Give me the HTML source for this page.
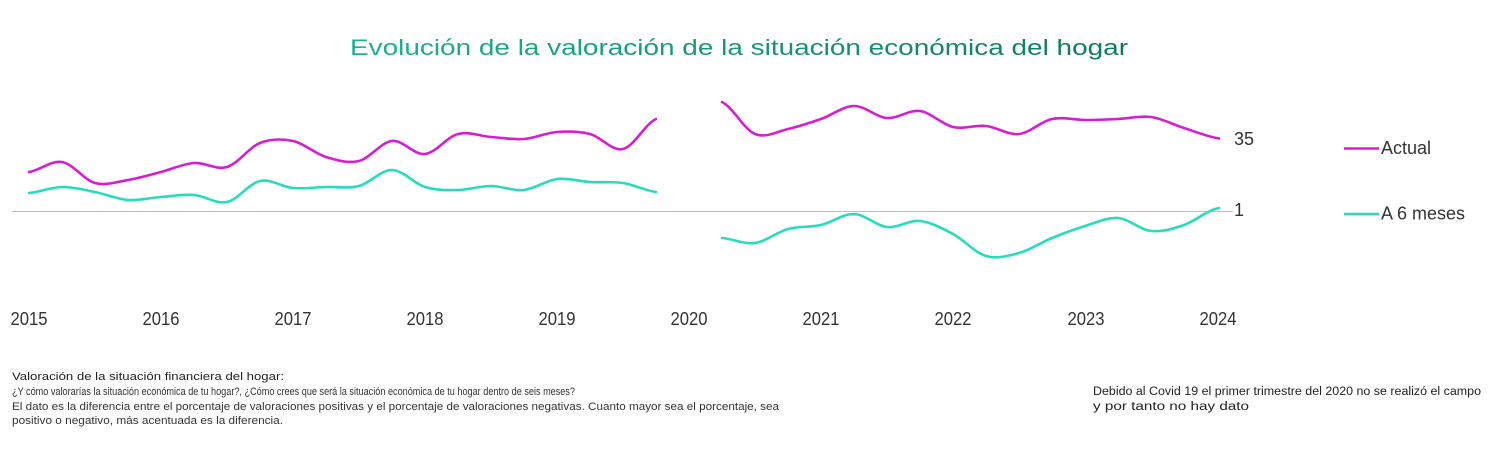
<!DOCTYPE html>
<html>
<head>
<meta charset="utf-8">
<style>
  html, body { margin: 0; padding: 0; background: #ffffff; }
  body { width: 1500px; height: 467px; overflow: hidden; }
  svg { display: block; }
  text { font-family: "Liberation Sans", "DejaVu Sans", sans-serif; }
</style>
</head>
<body>
<svg width="1500" height="467" viewBox="0 0 1500 467" xmlns="http://www.w3.org/2000/svg">
  <defs>
    <linearGradient id="tg" gradientUnits="userSpaceOnUse" x1="350" y1="0" x2="1128" y2="0">
      <stop offset="0" stop-color="#1db391"/>
      <stop offset="1" stop-color="#0f7a5f"/>
    </linearGradient>
  </defs>
  <rect x="0" y="0" width="1500" height="467" fill="#ffffff"/>

  <!-- Title -->
  <text x="350" y="55" font-size="22" fill="url(#tg)" textLength="778" lengthAdjust="spacingAndGlyphs">Evolución de la valoración de la situación económica del hogar</text>

  <!-- zero baseline -->
  <line x1="12" y1="211.5" x2="1233" y2="211.5" stroke="#bdbdbd" stroke-width="1"/>

  <!-- Actual (magenta) left segment -->
  <path fill="none" stroke="#d61ed0" stroke-width="2.6" stroke-linecap="round" stroke-linejoin="round"
    d="M29,172 C40,170.3 51,160.2 62,162 C73,163.8 84,180 95,183 C106,186 117,181.8 128,180 C139,178.2 150,174.8 161,172 C172,169.2 183,163.8 194,163 C205,162.2 216,170.3 227,167 C238,163.7 249,147.3 260,143 C271,138.7 282,138.7 293,141 C304,143.3 315,153.7 326,157 C337,160.3 348,163.7 359,161 C370,158.3 381,142.2 392,141 C403,139.8 414,155.2 425,154 C436,152.8 447,136.8 458,134 C469,131.2 480,136.2 491,137 C502,137.8 513,139.8 524,139 C535,138.2 546,132.8 557,132 C568,131.2 579,131.2 590,134 C601,136.8 612,151.5 623,149 C634,146.5 645,124 656,119"/>

  <!-- A 6 meses (teal) left segment -->
  <path fill="none" stroke="#27dcbd" stroke-width="2.6" stroke-linecap="round" stroke-linejoin="round"
    d="M29,193 C40,192 51,187.2 62,187 C73,186.8 84,189.8 95,192 C106,194.2 117,199.2 128,200 C139,200.8 150,197.8 161,197 C172,196.2 183,194.2 194,195 C205,195.8 216,204.3 227,202 C238,199.7 249,183.3 260,181 C271,178.7 282,187 293,188 C304,189 315,187.3 326,187 C337,186.7 348,188.8 359,186 C370,183.2 381,169.8 392,170 C403,170.2 414,183.7 425,187 C436,190.3 447,190.2 458,190 C469,189.8 480,186 491,186 C502,186 513,191.2 524,190 C535,188.8 546,180.3 557,179 C568,177.7 579,181.3 590,182 C601,182.7 612,181.3 623,183 C634,184.7 645,190.5 656,192"/>

  <!-- Actual right segment -->
  <path fill="none" stroke="#d61ed0" stroke-width="2.6" stroke-linecap="round" stroke-linejoin="round"
    d="M722,102 C733,107.3 744,129.5 755,134 C766,138.5 777,131.5 788,129 C799,126.5 810,122.8 821,119 C832,115.2 843,106.2 854,106 C865,105.8 876,117.2 887,118 C898,118.8 909,109.5 920,111 C931,112.5 942,124.5 953,127 C964,129.5 975,124.8 986,126 C997,127.2 1008,135.2 1019,134 C1030,132.8 1041,121.3 1052,119 C1063,116.7 1074,120 1085,120 C1096,120 1107,119.5 1118,119 C1129,118.5 1140,115.5 1151,117 C1162,118.5 1173,124.5 1184,128 C1195,131.5 1206,136.3 1219,138.5"/>

  <!-- A 6 meses right segment -->
  <path fill="none" stroke="#27dcbd" stroke-width="2.6" stroke-linecap="round" stroke-linejoin="round"
    d="M722,238 C733,238.8 744,244.5 755,243 C766,241.5 777,232 788,229 C799,226 810,227.5 821,225 C832,222.5 843,213.7 854,214 C865,214.3 876,225.8 887,227 C898,228.2 909,219.8 920,221 C931,222.2 942,228.2 953,234 C964,239.8 975,252.8 986,256 C997,259.2 1008,256 1019,253 C1030,250 1041,242.5 1052,238 C1063,233.5 1074,229.3 1085,226 C1096,222.7 1107,217.2 1118,218 C1129,218.8 1140,229.8 1151,231 C1162,232.2 1173,228.8 1184,225 C1195,221.2 1206,210.8 1219,208"/>

  <!-- End labels -->
  <text x="1234" y="145" font-size="18" fill="#333333">35</text>
  <text x="1234" y="216" font-size="18" fill="#333333">1</text>

  <!-- Legend -->
  <line x1="1344" y1="148.5" x2="1379" y2="148.5" stroke="#d61ed0" stroke-width="2.6"/>
  <text x="1381" y="154" font-size="18" fill="#333333">Actual</text>
  <line x1="1344" y1="214" x2="1379" y2="214" stroke="#27dcbd" stroke-width="2.6"/>
  <text x="1381" y="219.5" font-size="18" fill="#333333">A 6 meses</text>

  <!-- X axis year labels -->
  <g font-size="18" fill="#333333" text-anchor="middle">
    <text x="29" y="325" textLength="37" lengthAdjust="spacingAndGlyphs">2015</text>
    <text x="161" y="325" textLength="37" lengthAdjust="spacingAndGlyphs">2016</text>
    <text x="293" y="325" textLength="37" lengthAdjust="spacingAndGlyphs">2017</text>
    <text x="425" y="325" textLength="37" lengthAdjust="spacingAndGlyphs">2018</text>
    <text x="557" y="325" textLength="37" lengthAdjust="spacingAndGlyphs">2019</text>
    <text x="689" y="325" textLength="37" lengthAdjust="spacingAndGlyphs">2020</text>
    <text x="821" y="325" textLength="37" lengthAdjust="spacingAndGlyphs">2021</text>
    <text x="953" y="325" textLength="37" lengthAdjust="spacingAndGlyphs">2022</text>
    <text x="1086" y="325" textLength="37" lengthAdjust="spacingAndGlyphs">2023</text>
    <text x="1218" y="325" textLength="37" lengthAdjust="spacingAndGlyphs">2024</text>
  </g>

  <!-- Footnotes left -->
  <g font-size="11" fill="#333333">
    <text x="12" y="380" fill="#222222" textLength="272" lengthAdjust="spacingAndGlyphs">Valoración de la situación financiera del hogar:</text>
    <text x="12" y="395" textLength="563" lengthAdjust="spacingAndGlyphs">¿Y cómo valorarías la situación económica de tu hogar?, ¿Cómo crees que será la situación económica de tu hogar dentro de seis meses?</text>
    <text x="12" y="410" textLength="767" lengthAdjust="spacingAndGlyphs">El dato es la diferencia entre el porcentaje de valoraciones positivas y el porcentaje de valoraciones negativas. Cuanto mayor sea el porcentaje, sea</text>
    <text x="12" y="424" textLength="271" lengthAdjust="spacingAndGlyphs">positivo o negativo, más acentuada es la diferencia.</text>
  </g>

  <!-- Footnote right -->
  <g font-size="11.5" fill="#222222">
    <text x="1093" y="395" textLength="388" lengthAdjust="spacingAndGlyphs">Debido al Covid 19 el primer trimestre del 2020 no se realizó el campo</text>
    <text x="1093" y="410" textLength="156" lengthAdjust="spacingAndGlyphs">y por tanto no hay dato</text>
  </g>
</svg>
</body>
</html>
